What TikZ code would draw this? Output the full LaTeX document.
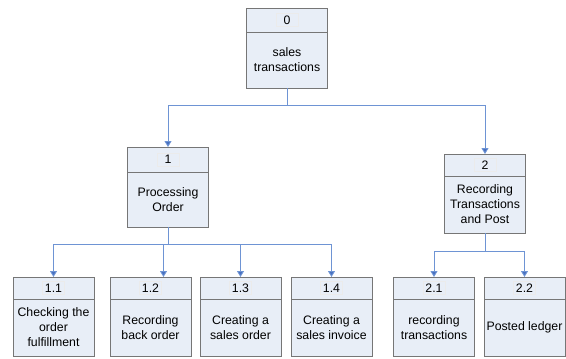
\documentclass[tikz,border=0pt]{standalone}
\usepackage{fontspec}
\setmainfont{Liberation Sans}
\usetikzlibrary{positioning,arrows.meta}
\definecolor{boxfill}{RGB}{232,238,247}
\definecolor{boxline}{RGB}{118,118,118}
\definecolor{linkblue}{RGB}{110,148,212}
\definecolor{tipblue}{RGB}{72,112,192}
\tikzset{
  head/.style={draw=boxline, fill=boxfill, line width=1pt, outer sep=0pt, minimum width=81pt, minimum height=23pt, inner sep=0pt, anchor=north},
  body/.style={draw=boxline, fill=boxfill, line width=1pt, outer sep=0pt, minimum width=81pt, minimum height=56pt, inner sep=0pt, align=center, font=\fontsize{12.3}{15}\selectfont},
  tag/.style={draw=black!8, minimum width=22pt, minimum height=13pt, inner sep=0pt, font=\fontsize{12.3}{13}\selectfont},
  fl/.style={-{Triangle[length=6pt, width=7pt, fill=tipblue]}, draw=linkblue, line width=0.9pt},
}
\begin{document}
\begin{tikzpicture}[x=1pt, y=-1pt]
\useasboundingbox (0,0) rectangle (566,359);
% level 0
\node[head, minimum height=24pt] (h0) at (287,8) {};
\node[tag] (t0) at (h0) {0};
\node[body] (b0) [below=0pt of h0] {sales\\transactions};
% level 1
\node[head, minimum height=25pt] (h1) at (168,147) {};
\node[tag] (t1) at (h1) {1};
\node[body, minimum height=55pt] (b1) [below=0pt of h1] {Processing\\Order};
\node[head, minimum height=22pt] (h2) at (485,154) {};
\node[tag] (t2) at (h2) {2};
\node[body, minimum height=57pt] (b2) [below=0pt of h2] {Recording\\Transactions\\and Post};
% level 2
\node[head, minimum height=22pt] (h11) at (53.5,277) {};
\node[tag] (t11) at (h11) {1.1};
\node[body, minimum height=57pt] (b11) [below=0pt of h11] {Checking the\\order\\fulfillment};
\node[head, minimum height=22pt] (h12) at (150.5,277) {};
\node[tag] (t12) at (h12) {1.2};
\node[body, minimum height=57pt] (b12) [below=0pt of h12] {Recording\\back order};
\node[head, minimum height=22pt] (h13) at (240.5,277) {};
\node[tag] (t13) at (h13) {1.3};
\node[body, minimum height=57pt] (b13) [below=0pt of h13] {Creating a\\sales order};
\node[head, minimum height=22pt] (h14) at (331.5,277) {};
\node[tag] (t14) at (h14) {1.4};
\node[body, minimum height=57pt] (b14) [below=0pt of h14] {Creating a\\sales invoice};
\node[head, minimum height=22pt] (h21) at (434,277) {};
\node[tag] (t21) at (h21) {2.1};
\node[body, minimum height=57pt] (b21) [below=0pt of h21] {recording\\transactions};
\node[head, minimum height=22pt] (h22) at (524.5,277) {};
\node[tag] (t22) at (h22) {2.2};
\node[body, minimum height=57pt] (b22) [below=0pt of h22] {Posted ledger};
% connectors
\draw[fl] (b0.south) -- ++(0,17) -| (h1.north);
\draw[fl] (b0.south) -- ++(0,17) -| (h2.north);
\draw[fl] (b1.south) -- ++(0,17) -| (h11.north);
\draw[fl] (b1.south) -- ++(0,17) -| ([xshift=13pt]h12.north);
\draw[fl] (b1.south) -- ++(0,17) -| (h13.north);
\draw[fl] (b1.south) -- ++(0,17) -| (h14.north);
\draw[fl] (b2.south) -- ++(0,18) -| (h21.north);
\draw[fl] (b2.south) -- ++(0,18) -| (h22.north);
\end{tikzpicture}
\end{document}
